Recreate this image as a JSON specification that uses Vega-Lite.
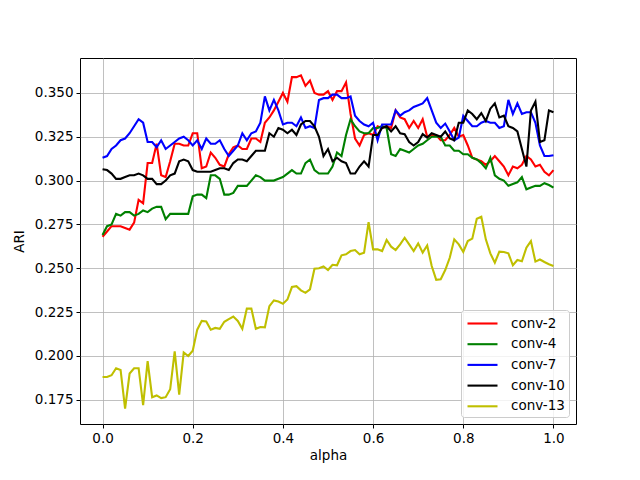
{
  "$schema": "https://vega.github.io/schema/vega-lite/v6.json",
  "width": 496,
  "height": 366,
  "autosize": {"type": "none"},
  "padding": {"left": 80, "top": 58, "right": 64, "bottom": 56},
  "background": "white",
  "config": {
    "view": {"stroke": "black", "strokeWidth": 1},
    "font": "DejaVu Sans"
  },
  "data": {
    "values": [
      {"alpha": 0.00, "conv-2": 0.268, "conv-4": 0.269, "conv-7": 0.313, "conv-10": 0.3065, "conv-13": 0.188},
      {"alpha": 0.01, "conv-2": 0.271, "conv-4": 0.274, "conv-7": 0.314, "conv-10": 0.306, "conv-13": 0.188},
      {"alpha": 0.02, "conv-2": 0.274, "conv-4": 0.275, "conv-7": 0.318, "conv-10": 0.304, "conv-13": 0.189},
      {"alpha": 0.03, "conv-2": 0.274, "conv-4": 0.281, "conv-7": 0.320, "conv-10": 0.301, "conv-13": 0.193},
      {"alpha": 0.04, "conv-2": 0.274, "conv-4": 0.280, "conv-7": 0.323, "conv-10": 0.301, "conv-13": 0.192},
      {"alpha": 0.05, "conv-2": 0.273, "conv-4": 0.282, "conv-7": 0.324, "conv-10": 0.302, "conv-13": 0.170},
      {"alpha": 0.06, "conv-2": 0.272, "conv-4": 0.282, "conv-7": 0.327, "conv-10": 0.303, "conv-13": 0.190},
      {"alpha": 0.07, "conv-2": 0.276, "conv-4": 0.280, "conv-7": 0.331, "conv-10": 0.303, "conv-13": 0.193},
      {"alpha": 0.08, "conv-2": 0.289, "conv-4": 0.281, "conv-7": 0.335, "conv-10": 0.304, "conv-13": 0.193},
      {"alpha": 0.09, "conv-2": 0.287, "conv-4": 0.283, "conv-7": 0.333, "conv-10": 0.303, "conv-13": 0.172},
      {"alpha": 0.10, "conv-2": 0.310, "conv-4": 0.282, "conv-7": 0.322, "conv-10": 0.301, "conv-13": 0.197},
      {"alpha": 0.11, "conv-2": 0.310, "conv-4": 0.284, "conv-7": 0.322, "conv-10": 0.301, "conv-13": 0.1765},
      {"alpha": 0.12, "conv-2": 0.321, "conv-4": 0.285, "conv-7": 0.319, "conv-10": 0.298, "conv-13": 0.1775},
      {"alpha": 0.13, "conv-2": 0.303, "conv-4": 0.285, "conv-7": 0.323, "conv-10": 0.298, "conv-13": 0.176},
      {"alpha": 0.14, "conv-2": 0.302, "conv-4": 0.278, "conv-7": 0.318, "conv-10": 0.300, "conv-13": 0.1765},
      {"alpha": 0.15, "conv-2": 0.311, "conv-4": 0.281, "conv-7": 0.320, "conv-10": 0.303, "conv-13": 0.181},
      {"alpha": 0.16, "conv-2": 0.321, "conv-4": 0.281, "conv-7": 0.322, "conv-10": 0.304, "conv-13": 0.2026},
      {"alpha": 0.17, "conv-2": 0.321, "conv-4": 0.281, "conv-7": 0.324, "conv-10": 0.311, "conv-13": 0.178},
      {"alpha": 0.18, "conv-2": 0.320, "conv-4": 0.281, "conv-7": 0.325, "conv-10": 0.312, "conv-13": 0.202},
      {"alpha": 0.19, "conv-2": 0.320, "conv-4": 0.281, "conv-7": 0.323, "conv-10": 0.311, "conv-13": 0.200},
      {"alpha": 0.20, "conv-2": 0.327, "conv-4": 0.291, "conv-7": 0.320, "conv-10": 0.306, "conv-13": 0.203},
      {"alpha": 0.21, "conv-2": 0.327, "conv-4": 0.292, "conv-7": 0.323, "conv-10": 0.305, "conv-13": 0.215},
      {"alpha": 0.22, "conv-2": 0.307, "conv-4": 0.292, "conv-7": 0.318, "conv-10": 0.305, "conv-13": 0.220},
      {"alpha": 0.23, "conv-2": 0.308, "conv-4": 0.290, "conv-7": 0.324, "conv-10": 0.305, "conv-13": 0.2197},
      {"alpha": 0.24, "conv-2": 0.316, "conv-4": 0.303, "conv-7": 0.321, "conv-10": 0.305, "conv-13": 0.215},
      {"alpha": 0.25, "conv-2": 0.313, "conv-4": 0.303, "conv-7": 0.321, "conv-10": 0.306, "conv-13": 0.216},
      {"alpha": 0.26, "conv-2": 0.309, "conv-4": 0.301, "conv-7": 0.323, "conv-10": 0.307, "conv-13": 0.2155},
      {"alpha": 0.27, "conv-2": 0.308, "conv-4": 0.292, "conv-7": 0.318, "conv-10": 0.307, "conv-13": 0.2195},
      {"alpha": 0.28, "conv-2": 0.315, "conv-4": 0.292, "conv-7": 0.314, "conv-10": 0.306, "conv-13": 0.221},
      {"alpha": 0.29, "conv-2": 0.319, "conv-4": 0.293, "conv-7": 0.317, "conv-10": 0.310, "conv-13": 0.2225},
      {"alpha": 0.30, "conv-2": 0.320, "conv-4": 0.297, "conv-7": 0.320, "conv-10": 0.312, "conv-13": 0.220},
      {"alpha": 0.31, "conv-2": 0.318, "conv-4": 0.297, "conv-7": 0.327, "conv-10": 0.312, "conv-13": 0.2155},
      {"alpha": 0.32, "conv-2": 0.318, "conv-4": 0.297, "conv-7": 0.323, "conv-10": 0.311, "conv-13": 0.227},
      {"alpha": 0.33, "conv-2": 0.324, "conv-4": 0.300, "conv-7": 0.327, "conv-10": 0.314, "conv-13": 0.227},
      {"alpha": 0.34, "conv-2": 0.324, "conv-4": 0.303, "conv-7": 0.328, "conv-10": 0.317, "conv-13": 0.2155},
      {"alpha": 0.35, "conv-2": 0.322, "conv-4": 0.302, "conv-7": 0.333, "conv-10": 0.317, "conv-13": 0.2165},
      {"alpha": 0.36, "conv-2": 0.333, "conv-4": 0.300, "conv-7": 0.348, "conv-10": 0.317, "conv-13": 0.2163},
      {"alpha": 0.37, "conv-2": 0.336, "conv-4": 0.300, "conv-7": 0.340, "conv-10": 0.327, "conv-13": 0.2284},
      {"alpha": 0.38, "conv-2": 0.340, "conv-4": 0.300, "conv-7": 0.346, "conv-10": 0.325, "conv-13": 0.2317},
      {"alpha": 0.39, "conv-2": 0.345, "conv-4": 0.301, "conv-7": 0.340, "conv-10": 0.330, "conv-13": 0.231},
      {"alpha": 0.40, "conv-2": 0.350, "conv-4": 0.302, "conv-7": 0.332, "conv-10": 0.329, "conv-13": 0.2298},
      {"alpha": 0.41, "conv-2": 0.345, "conv-4": 0.304, "conv-7": 0.333, "conv-10": 0.327, "conv-13": 0.2322},
      {"alpha": 0.42, "conv-2": 0.359, "conv-4": 0.306, "conv-7": 0.333, "conv-10": 0.329, "conv-13": 0.2393},
      {"alpha": 0.43, "conv-2": 0.359, "conv-4": 0.304, "conv-7": 0.331, "conv-10": 0.326, "conv-13": 0.2398},
      {"alpha": 0.44, "conv-2": 0.360, "conv-4": 0.304, "conv-7": 0.336, "conv-10": 0.332, "conv-13": 0.2374},
      {"alpha": 0.45, "conv-2": 0.354, "conv-4": 0.310, "conv-7": 0.330, "conv-10": 0.334, "conv-13": 0.236},
      {"alpha": 0.46, "conv-2": 0.357, "conv-4": 0.312, "conv-7": 0.331, "conv-10": 0.334, "conv-13": 0.238},
      {"alpha": 0.47, "conv-2": 0.350, "conv-4": 0.306, "conv-7": 0.330, "conv-10": 0.331, "conv-13": 0.2497},
      {"alpha": 0.48, "conv-2": 0.349, "conv-4": 0.304, "conv-7": 0.346, "conv-10": 0.325, "conv-13": 0.250},
      {"alpha": 0.49, "conv-2": 0.349, "conv-4": 0.304, "conv-7": 0.347, "conv-10": 0.314, "conv-13": 0.251},
      {"alpha": 0.50, "conv-2": 0.351, "conv-4": 0.304, "conv-7": 0.347, "conv-10": 0.318, "conv-13": 0.249},
      {"alpha": 0.51, "conv-2": 0.346, "conv-4": 0.308, "conv-7": 0.349, "conv-10": 0.311, "conv-13": 0.252},
      {"alpha": 0.52, "conv-2": 0.351, "conv-4": 0.316, "conv-7": 0.349, "conv-10": 0.313, "conv-13": 0.2517},
      {"alpha": 0.53, "conv-2": 0.351, "conv-4": 0.314, "conv-7": 0.347, "conv-10": 0.311, "conv-13": 0.2574},
      {"alpha": 0.54, "conv-2": 0.356, "conv-4": 0.326, "conv-7": 0.347, "conv-10": 0.310, "conv-13": 0.258},
      {"alpha": 0.55, "conv-2": 0.338, "conv-4": 0.335, "conv-7": 0.348, "conv-10": 0.304, "conv-13": 0.2598},
      {"alpha": 0.56, "conv-2": 0.324, "conv-4": 0.331, "conv-7": 0.337, "conv-10": 0.304, "conv-13": 0.2604},
      {"alpha": 0.57, "conv-2": 0.320, "conv-4": 0.328, "conv-7": 0.334, "conv-10": 0.308, "conv-13": 0.258},
      {"alpha": 0.58, "conv-2": 0.326, "conv-4": 0.327, "conv-7": 0.332, "conv-10": 0.311, "conv-13": 0.2589},
      {"alpha": 0.59, "conv-2": 0.327, "conv-4": 0.327, "conv-7": 0.331, "conv-10": 0.308, "conv-13": 0.2763},
      {"alpha": 0.60, "conv-2": 0.326, "conv-4": 0.330, "conv-7": 0.333, "conv-10": 0.326, "conv-13": 0.2608},
      {"alpha": 0.61, "conv-2": 0.331, "conv-4": 0.330, "conv-7": 0.323, "conv-10": 0.326, "conv-13": 0.2608},
      {"alpha": 0.62, "conv-2": 0.330, "conv-4": 0.331, "conv-7": 0.332, "conv-10": 0.330, "conv-13": 0.2598},
      {"alpha": 0.63, "conv-2": 0.331, "conv-4": 0.330, "conv-7": 0.332, "conv-10": 0.331, "conv-13": 0.2661},
      {"alpha": 0.64, "conv-2": 0.330, "conv-4": 0.315, "conv-7": 0.332, "conv-10": 0.328, "conv-13": 0.2623},
      {"alpha": 0.65, "conv-2": 0.340, "conv-4": 0.314, "conv-7": 0.340, "conv-10": 0.331, "conv-13": 0.2604},
      {"alpha": 0.66, "conv-2": 0.336, "conv-4": 0.318, "conv-7": 0.337, "conv-10": 0.327, "conv-13": 0.2636},
      {"alpha": 0.67, "conv-2": 0.335, "conv-4": 0.317, "conv-7": 0.339, "conv-10": 0.3265, "conv-13": 0.2674},
      {"alpha": 0.68, "conv-2": 0.330, "conv-4": 0.316, "conv-7": 0.340, "conv-10": 0.322, "conv-13": 0.2636},
      {"alpha": 0.69, "conv-2": 0.334, "conv-4": 0.318, "conv-7": 0.342, "conv-10": 0.320, "conv-13": 0.2598},
      {"alpha": 0.70, "conv-2": 0.330, "conv-4": 0.320, "conv-7": 0.343, "conv-10": 0.322, "conv-13": 0.2642},
      {"alpha": 0.71, "conv-2": 0.335, "conv-4": 0.321, "conv-7": 0.344, "conv-10": 0.3265, "conv-13": 0.2589},
      {"alpha": 0.72, "conv-2": 0.325, "conv-4": 0.323, "conv-7": 0.347, "conv-10": 0.3245, "conv-13": 0.263},
      {"alpha": 0.73, "conv-2": 0.326, "conv-4": 0.325, "conv-7": 0.340, "conv-10": 0.327, "conv-13": 0.2513},
      {"alpha": 0.74, "conv-2": 0.326, "conv-4": 0.325, "conv-7": 0.333, "conv-10": 0.326, "conv-13": 0.2434},
      {"alpha": 0.75, "conv-2": 0.323, "conv-4": 0.325, "conv-7": 0.330, "conv-10": 0.325, "conv-13": 0.2437},
      {"alpha": 0.76, "conv-2": 0.323, "conv-4": 0.320, "conv-7": 0.3325, "conv-10": 0.328, "conv-13": 0.249},
      {"alpha": 0.77, "conv-2": 0.326, "conv-4": 0.320, "conv-7": 0.328, "conv-10": 0.324, "conv-13": 0.256},
      {"alpha": 0.78, "conv-2": 0.330, "conv-4": 0.317, "conv-7": 0.323, "conv-10": 0.323, "conv-13": 0.2665},
      {"alpha": 0.79, "conv-2": 0.325, "conv-4": 0.317, "conv-7": 0.3245, "conv-10": 0.333, "conv-13": 0.2636},
      {"alpha": 0.80, "conv-2": 0.326, "conv-4": 0.315, "conv-7": 0.337, "conv-10": 0.333, "conv-13": 0.2593},
      {"alpha": 0.81, "conv-2": 0.320, "conv-4": 0.315, "conv-7": 0.334, "conv-10": 0.340, "conv-13": 0.2655},
      {"alpha": 0.82, "conv-2": 0.313, "conv-4": 0.313, "conv-7": 0.331, "conv-10": 0.338, "conv-13": 0.2669},
      {"alpha": 0.83, "conv-2": 0.312, "conv-4": 0.312, "conv-7": 0.331, "conv-10": 0.335, "conv-13": 0.2782},
      {"alpha": 0.84, "conv-2": 0.311, "conv-4": 0.310, "conv-7": 0.333, "conv-10": 0.3385, "conv-13": 0.2794},
      {"alpha": 0.85, "conv-2": 0.309, "conv-4": 0.307, "conv-7": 0.334, "conv-10": 0.334, "conv-13": 0.2665},
      {"alpha": 0.86, "conv-2": 0.311, "conv-4": 0.313, "conv-7": 0.333, "conv-10": 0.341, "conv-13": 0.2585},
      {"alpha": 0.87, "conv-2": 0.314, "conv-4": 0.303, "conv-7": 0.333, "conv-10": 0.344, "conv-13": 0.2532},
      {"alpha": 0.88, "conv-2": 0.311, "conv-4": 0.301, "conv-7": 0.330, "conv-10": 0.336, "conv-13": 0.2595},
      {"alpha": 0.89, "conv-2": 0.308, "conv-4": 0.300, "conv-7": 0.331, "conv-10": 0.337, "conv-13": 0.2593},
      {"alpha": 0.90, "conv-2": 0.303, "conv-4": 0.297, "conv-7": 0.346, "conv-10": 0.331, "conv-13": 0.2585},
      {"alpha": 0.91, "conv-2": 0.308, "conv-4": 0.298, "conv-7": 0.338, "conv-10": 0.330, "conv-13": 0.2517},
      {"alpha": 0.92, "conv-2": 0.307, "conv-4": 0.299, "conv-7": 0.344, "conv-10": 0.328, "conv-13": 0.2547},
      {"alpha": 0.93, "conv-2": 0.309, "conv-4": 0.302, "conv-7": 0.338, "conv-10": 0.318, "conv-13": 0.254},
      {"alpha": 0.94, "conv-2": 0.314, "conv-4": 0.295, "conv-7": 0.339, "conv-10": 0.308, "conv-13": 0.2617},
      {"alpha": 0.95, "conv-2": 0.312, "conv-4": 0.296, "conv-7": 0.339, "conv-10": 0.340, "conv-13": 0.2655},
      {"alpha": 0.96, "conv-2": 0.308, "conv-4": 0.297, "conv-7": 0.333, "conv-10": 0.345, "conv-13": 0.2538},
      {"alpha": 0.97, "conv-2": 0.309, "conv-4": 0.297, "conv-7": 0.320, "conv-10": 0.322, "conv-13": 0.255},
      {"alpha": 0.98, "conv-2": 0.305, "conv-4": 0.2985, "conv-7": 0.314, "conv-10": 0.323, "conv-13": 0.2536},
      {"alpha": 0.99, "conv-2": 0.303, "conv-4": 0.2975, "conv-7": 0.314, "conv-10": 0.340, "conv-13": 0.2523},
      {"alpha": 1.00, "conv-2": 0.306, "conv-4": 0.296, "conv-7": 0.3145, "conv-10": 0.339, "conv-13": 0.2513}
    ]
  },
  "transform": [
    {"fold": ["conv-2", "conv-4", "conv-7", "conv-10", "conv-13"], "as": ["series", "ARI"]}
  ],
  "mark": {"type": "line", "strokeWidth": 2.1, "clip": true},
  "encoding": {
    "x": {
      "field": "alpha",
      "type": "quantitative",
      "scale": {"domain": [-0.05, 1.05], "nice": false, "zero": false},
      "axis": {
        "title": "alpha",
        "values": [0, 0.2, 0.4, 0.6, 0.8, 1.0],
        "format": ".1f",
        "grid": true,
        "gridColor": "#b0b0b0",
        "gridWidth": 0.8,
        "domain": false,
        "ticks": true,
        "tickSize": 4,
        "tickColor": "black",
        "tickWidth": 1,
        "labelFont": "DejaVu Sans",
        "labelFontSize": 13.5,
        "labelColor": "black",
        "labelPadding": 3,
        "titleFont": "DejaVu Sans",
        "titleFontSize": 13.5,
        "titleFontWeight": "normal",
        "titleColor": "black",
        "titlePadding": 4
      }
    },
    "y": {
      "field": "ARI",
      "type": "quantitative",
      "scale": {"domain": [0.1612, 0.3699], "nice": false, "zero": false},
      "axis": {
        "title": "ARI",
        "values": [0.175, 0.2, 0.225, 0.25, 0.275, 0.3, 0.325, 0.35],
        "format": ".3f",
        "grid": true,
        "gridColor": "#b0b0b0",
        "gridWidth": 0.8,
        "domain": false,
        "ticks": true,
        "tickSize": 4,
        "tickColor": "black",
        "tickWidth": 1,
        "labelFont": "DejaVu Sans",
        "labelFontSize": 13.5,
        "labelColor": "black",
        "labelPadding": 3,
        "titleFont": "DejaVu Sans",
        "titleFontSize": 13.5,
        "titleFontWeight": "normal",
        "titleColor": "black",
        "titlePadding": 8
      }
    },
    "color": {
      "field": "series",
      "type": "nominal",
      "scale": {
        "domain": ["conv-2", "conv-4", "conv-7", "conv-10", "conv-13"],
        "range": ["#ff0000", "#008000", "#0000ff", "#000000", "#bfbf00"]
      },
      "legend": {
        "title": null,
        "orient": "bottom-right",
        "offset": 7,
        "symbolType": "M-0.875,0H2.875",
        "symbolSize": 256,
        "symbolStrokeWidth": 2.1,
        "labelFont": "DejaVu Sans",
        "labelFontSize": 13.5,
        "labelColor": "black",
        "labelOffset": 27,
        "rowPadding": 4.7,
        "padding": 4,
        "fillColor": "rgba(255,255,255,0.8)",
        "strokeColor": "#cccccc",
        "cornerRadius": 3
      }
    }
  }
}
